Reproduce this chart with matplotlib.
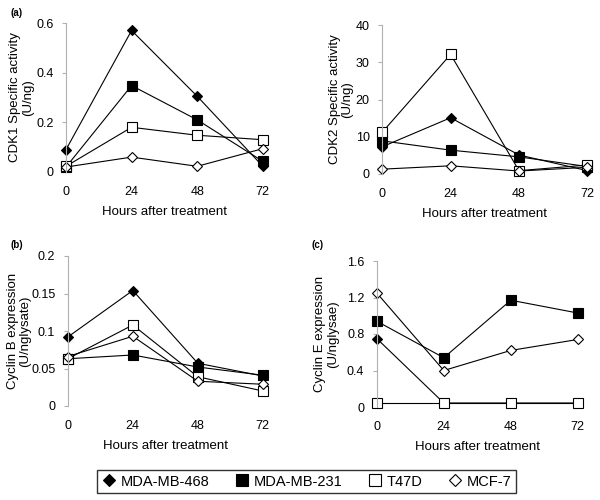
import matplotlib
matplotlib.use("Agg")
import matplotlib.pyplot as plt
from matplotlib.lines import Line2D

plt.rcParams["font.family"] = ["Liberation Sans", "DejaVu Sans"]

hours = [0, 24, 48, 72]
cell_lines = ["MDA-MB-468", "MDA-MB-231", "T47D", "MCF-7"]

# values per cell line, same order as cell_lines
cdk1 = [
    [0.09, 0.57, 0.305, 0.023],
    [0.02, 0.348, 0.21, 0.043],
    [0.023, 0.18, 0.148, 0.13],
    [0.02, 0.06, 0.023, 0.094],
]
cdk2 = [
    [7.3, 15.1, 5.1, 0.9],
    [8.9, 6.4, 4.6, 2.0],
    [11.2, 32.1, 0.9, 2.4],
    [1.3, 2.2, 0.8, 1.8],
]
cyclin_b = [
    [0.092, 0.154, 0.057, 0.04],
    [0.063, 0.068, 0.052, 0.041],
    [0.063, 0.108, 0.039, 0.02],
    [0.066, 0.093, 0.033, 0.029],
]
cyclin_e = [
    [0.75, 0.044, 0.044, 0.044],
    [0.94, 0.54, 1.17, 1.03],
    [0.044, 0.044, 0.044, 0.044],
    [1.25, 0.40, 0.62, 0.74],
]

styles = [
    dict(marker="D", ms=5, mfc="black"),
    dict(marker="s", ms=6.5, mfc="black"),
    dict(marker="s", ms=6.5, mfc="white"),
    dict(marker="D", ms=4.6, mfc="white"),
]

fig = plt.figure(figsize=(6, 5), dpi=100)

panels = [
    ([0.11, 0.656, 0.328, 0.298], cdk1, (0, 0.6), [0, 0.2, 0.4, 0.6], ["0", "0.2", "0.4", "0.6"],
     "CDK1 Specific activity\n(U/ng)", -0.225),
    ([0.637, 0.652, 0.342, 0.298], cdk2, (0, 40), [0, 10, 20, 30, 40], ["0", "10", "20", "30", "40"],
     "CDK2 Specific activity\n(U/ng)", -0.2),
    ([0.113, 0.188, 0.325, 0.30], cyclin_b, (0, 0.2), [0, 0.05, 0.1, 0.15, 0.2], ["0", "0.05", "0.1", "0.15", "0.2"],
     "Cyclin B expression\n(U/nglysate)", -0.25),
    ([0.628, 0.186, 0.335, 0.292], cyclin_e, (0, 1.6), [0, 0.4, 0.8, 1.2, 1.6], ["0", "0.4", "0.8", "1.2", "1.6"],
     "Cyclin E expression\n(U/nglysae)", -0.25),
]

for rect, data, ylim, yticks, ylabels, ylabel, lx in panels:
    ax = fig.add_axes(rect)
    for vals, st in zip(data, styles):
        ax.plot(hours, vals, color="black", lw=0.8, mec="black", mew=0.8,
                clip_on=False, **st)
    ax.set_xlim(0, 72)
    ax.set_ylim(*ylim)
    ax.set_xticks(hours)
    ax.set_yticks(yticks)
    ax.set_yticklabels(ylabels)
    for s in ["top", "right", "bottom"]:
        ax.spines[s].set_visible(False)
    ax.spines["left"].set_color("#b0b0b0")
    ax.spines["left"].set_linewidth(0.8)
    ax.tick_params(axis="x", length=0, pad=10, labelsize=9)
    ax.tick_params(axis="y", length=3, color="#b0b0b0", pad=6, labelsize=9)
    ax.set_xlabel("Hours after treatment", fontsize=9.5, labelpad=6)
    ax.set_ylabel(ylabel, fontsize=9.5, linespacing=1.05, va="center")
    ax.yaxis.set_label_coords(lx, 0.5)

fig.text(0.017, 0.974, "(a)", fontsize=7, fontweight="bold", va="center")
fig.text(0.017, 0.51, "(b)", fontsize=7, fontweight="bold", va="center")
fig.text(0.52, 0.51, "(c)", fontsize=7, fontweight="bold", va="center")

handles = [Line2D([], [], ls="none", color="black", mec="black", mew=0.8, **st) for st in styles]
leg = fig.legend(handles, cell_lines, loc="center", ncol=4, mode="expand",
                 bbox_to_anchor=(0.15, 0.01, 0.722, 0.054), fontsize=10.5,
                 frameon=True, fancybox=False, edgecolor="black",
                 handletextpad=0.3, columnspacing=1.0, markerscale=1.25,
                 borderpad=0.3, handlelength=1.0)
leg.get_frame().set_linewidth(1.0)

fig.savefig("out.png", dpi=100)
